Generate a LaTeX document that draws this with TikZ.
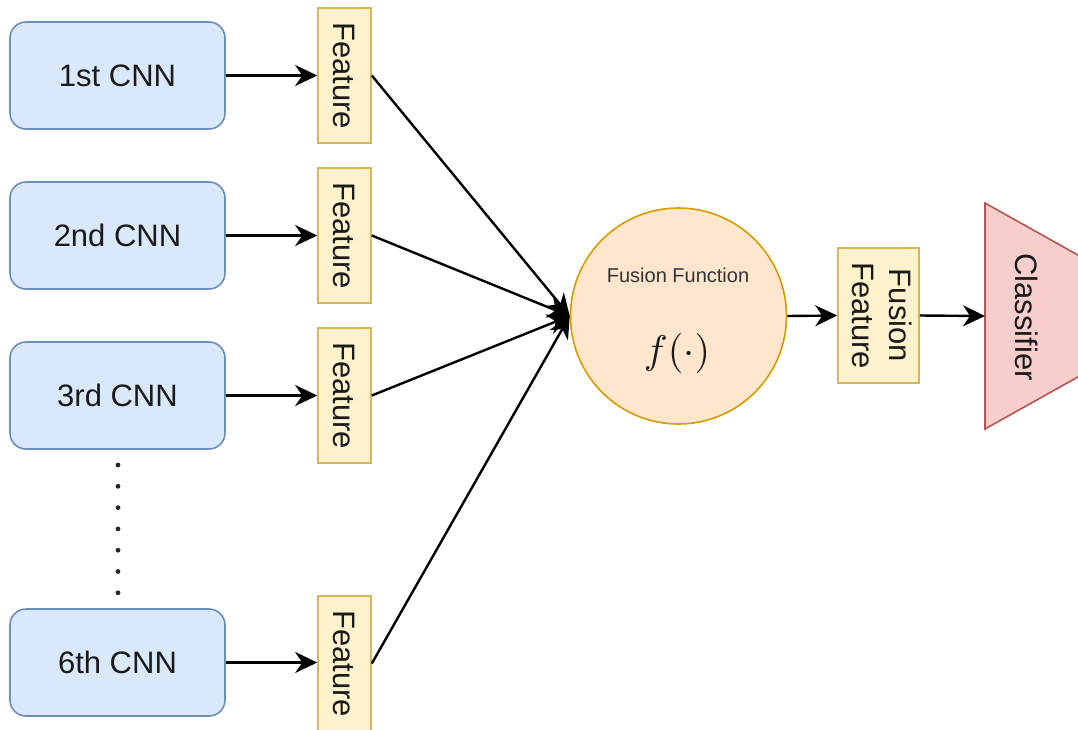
\documentclass[tikz,border=0pt]{standalone}
\usepackage{fontspec}
\setmainfont{Liberation Sans}
\usetikzlibrary{arrows.meta}
\definecolor{cnnfill}{HTML}{DAE8FC}
\definecolor{cnnline}{HTML}{6C8EBF}
\definecolor{featfill}{HTML}{FFF2CC}
\definecolor{featline}{HTML}{D6B656}
\definecolor{fusfill}{HTML}{FFE6CC}
\definecolor{fusline}{HTML}{D79B00}
\definecolor{clsfill}{HTML}{F8CECC}
\definecolor{clsline}{HTML}{B85450}
\definecolor{txt}{HTML}{1A1A1A}
\tikzset{
  x=1pt, y=-1pt,
  every node/.style={text=txt, font=\fontsize{31}{37}\selectfont},
  cnnbox/.style={draw=cnnline, fill=cnnfill, line width=1.6pt, rounded corners=16pt,
    minimum width=215pt, minimum height=107pt, inner sep=0pt},
  featbox/.style={draw=featline, fill=featfill, line width=1.6pt,
    minimum width=53pt, minimum height=135pt, inner sep=0pt},
  fusbox/.style={draw=fusline, fill=fusfill, line width=1.6pt, circle,
    minimum size=216pt, inner sep=0pt},
  link/.style={line width=2.4pt, draw=black, -{Stealth[length=22pt,width=21pt,inset=7pt]}},
}
\begin{document}
\begin{tikzpicture}
\useasboundingbox (0,0) rectangle (1078,729);
\clip (0,0) rectangle (1078,729);

% CNN branches
\node[cnnbox] (c1) at (117.5,75.5)  {1st CNN};
\node[cnnbox] (c2) at (117.5,235.5) {2nd CNN};
\node[cnnbox] (c3) at (117.5,395.5) {3rd CNN};
\node[cnnbox] (c6) at (117.5,662.5) {6th CNN};

% elided branches
\foreach \k in {0,...,6}
  \fill[black!85] (118,465+\k*21.3) circle (2.4pt);

% per-branch features
\node[featbox] (f1) at (344.5,75.5)  {\rotatebox{-90}{Feature}};
\node[featbox] (f2) at (344.5,235.5) {\rotatebox{-90}{Feature}};
\node[featbox] (f3) at (344.5,395.5) {\rotatebox{-90}{Feature}};
\node[featbox] (f6) at (344.5,663.5) {\rotatebox{-90}{Feature}};

% fusion
\node[fusbox] (fus) at (678.5,316) {};
\node[text=black!80, font=\fontsize{20}{24}\selectfont] (fusname) at (678,275) {Fusion Function};
\node[font=\fontsize{10}{12}\selectfont] (fusf) at (677,353) {\scalebox{4}{$f(\cdot)$}};

\node[draw=featline, fill=featfill, line width=1.6pt, minimum width=81pt,
  minimum height=135pt, inner sep=0pt] (ff) at (878.5,315.5)
  {\rotatebox{-90}{\begin{tabular}{@{}c@{}}Fusion\\Feature\end{tabular}}};

% classifier
\draw[draw=clsline, fill=clsfill, line width=1.6pt]
  (985,203) -- (1110,273) -- (1110,359) -- (985,429) -- cycle;
\coordinate (clin) at (985,316);
\node (clf) at (1027,317) {\rotatebox{-90}{Classifier}};

% connectors
\draw[link] (c1.east) -- (f1.west);
\draw[link] (c2.east) -- (f2.west);
\draw[link] (c3.east) -- (f3.west);
\draw[link] (c6.east) -- (f6.west |- c6.east);
\draw[link] (f1.east) -- (fus.west);
\draw[link] (f2.east) -- (fus.west);
\draw[link] (f3.east) -- (fus.west);
\draw[link] (f6.east) -- (fus.west);
\draw[link] (fus.east) -- (ff.west);
\draw[link] (ff.east) -- (clin);
\end{tikzpicture}
\end{document}
